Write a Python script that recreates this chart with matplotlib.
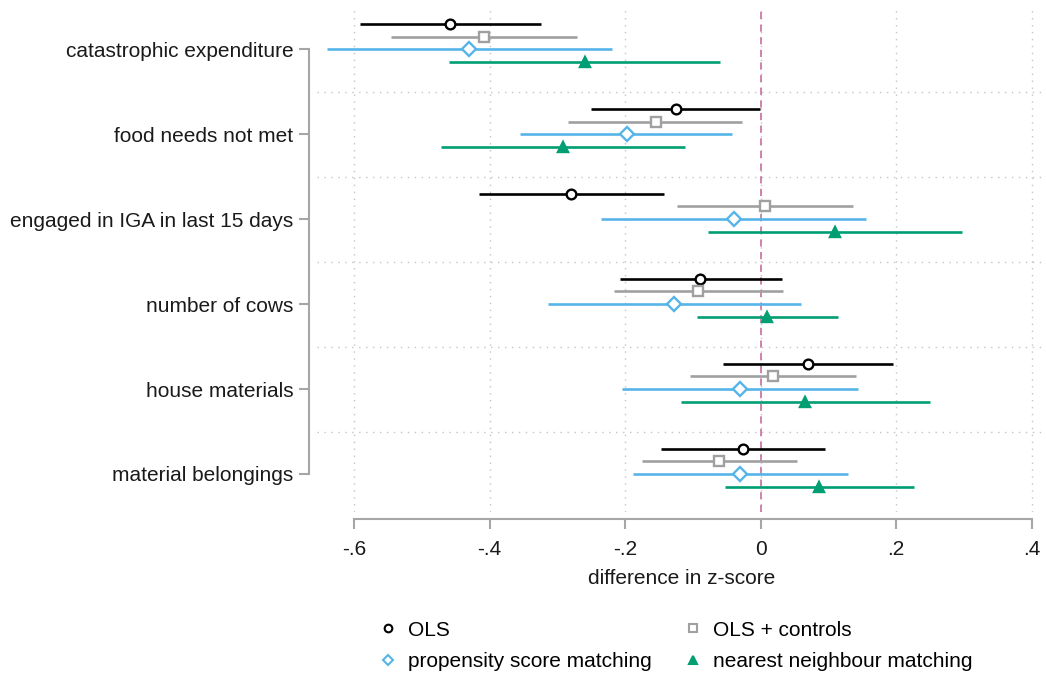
import numpy as np
import matplotlib
matplotlib.use('Agg')
import matplotlib.pyplot as plt
from matplotlib.lines import Line2D

plt.rcParams['font.family'] = ['Liberation Sans', 'DejaVu Sans']

# DATOS
outcomes = ['catastrophic expenditure', 'food needs not met',
            'engaged in IGA in last 15 days', 'number of cows',
            'house materials', 'material belongings']

ols_b  = [-0.458, -0.125, -0.280, -0.089, 0.070, -0.026]
ols_lo = [-0.591, -0.250, -0.416, -0.208, -0.056, -0.147]
ols_hi = [-0.325, -0.001, -0.143, 0.031, 0.195, 0.095]

ctl_b  = [-0.408, -0.155, 0.006, -0.092, 0.018, -0.061]
ctl_lo = [-0.545, -0.285, -0.124, -0.216, -0.104, -0.175]
ctl_hi = [-0.271, -0.027, 0.136, 0.033, 0.140, 0.054]

psm_b  = [-0.430, -0.198, -0.040, -0.128, -0.030, -0.030]
psm_lo = [-0.640, -0.355, -0.235, -0.314, -0.204, -0.188]
psm_hi = [-0.220, -0.043, 0.156, 0.059, 0.144, 0.129]

nn_b  = [-0.260, -0.292, 0.109, 0.010, 0.066, 0.086]
nn_lo = [-0.460, -0.472, -0.078, -0.094, -0.118, -0.052]
nn_hi = [-0.060, -0.112, 0.297, 0.114, 0.250, 0.226]

series = [
    ('OLS', ols_b, ols_lo, ols_hi, '#000000', 'o', -0.30),
    ('OLS + controls', ctl_b, ctl_lo, ctl_hi, '#a0a0a0', 's', -0.15),
    ('propensity score matching', psm_b, psm_lo, psm_hi, '#56b4e9', 'D', 0.0),
    ('nearest neighbour matching', nn_b, nn_lo, nn_hi, '#009e73', '^', 0.15),
]

xticks = [-0.6, -0.4, -0.2, 0.0, 0.2, 0.4]
xticklabels = ['-.6', '-.4', '-.2', '0', '.2', '.4']

# FIGURA
W, H = 1046, 674
fs = 15
fig = plt.figure(figsize=(W / 100, H / 100), dpi=100)
left, right, top, bottom = 317, 1046, 8, 512
ax = fig.add_axes([left / W, 1 - bottom / H, (right - left) / W, (bottom - top) / H])

ypos = np.arange(1, len(outcomes) + 1)
axis_gray = '#a6a6a6'
grid_gray = '#c4c4c4'

# grid
for xt in xticks:
    ax.axvline(xt, color=grid_gray, lw=1.0, ls=(0, (1, 4)), zorder=0)
for yg in ypos[:-1] + 0.5:
    ax.axhline(yg, color=grid_gray, lw=1.0, ls=(0, (1, 4)), zorder=0)

ax.axvline(0, color='#cc79a7', lw=1.3, ls=(0, (4, 3)), zorder=1)

msizes = {'o': 7, 's': 7.5, 'D': 7.5, '^': 7.5}
handles = []
for name, b, lo, hi, col, mk, off in series:
    y = ypos + off
    ax.hlines(y, lo, hi, color=col, lw=1.9, zorder=2)
    face = col if mk == '^' else 'white'
    ax.plot(b, y, ls='none', marker=mk, ms=msizes[mk], mfc=face, mec=col,
            mew=1.7, zorder=3)
    handles.append(Line2D([], [], ls='none', marker=mk, ms=5.5, mfc=face,
                          mec=col, mew=1.5, label=name))

ax.set_xlim((left - 760.7) / 677.5, (right - 760.7) / 677.5)
ax.set_ylim(6 + 38 / 84.9, 1 - 41.3 / 84.9)

ax.set_xticks(xticks)
ax.set_xticklabels(xticklabels)
ax.set_yticks(ypos)
ax.set_yticklabels(outcomes)

for s in ['top', 'right']:
    ax.spines[s].set_visible(False)
ax.spines['left'].set_position(('outward', 6))
ax.spines['left'].set_bounds(1, 6)
ax.spines['bottom'].set_position(('outward', 5))
ax.spines['bottom'].set_bounds(-0.6, 0.4)
for s in ['left', 'bottom']:
    ax.spines[s].set_color(axis_gray)
    ax.spines[s].set_linewidth(1.5)
ax.tick_params(axis='both', colors=axis_gray, width=1.5, length=7,
               labelcolor='#1a1a1a', labelsize=fs)
ax.tick_params(axis='y', pad=4)
ax.tick_params(axis='x', pad=8)

ax.set_xlabel('difference in z-score', fontsize=fs, color='#1a1a1a', labelpad=7)

fig.legend(handles=[handles[0], handles[2], handles[1], handles[3]], ncol=2,
           loc='center', bbox_to_anchor=(675 / W, 1 - 646 / H), frameon=False,
           fontsize=fs, handlelength=1.0, handletextpad=0.46,
           columnspacing=1.5, labelspacing=0.62)

plt.savefig('out.png', dpi=100)
plt.close()
